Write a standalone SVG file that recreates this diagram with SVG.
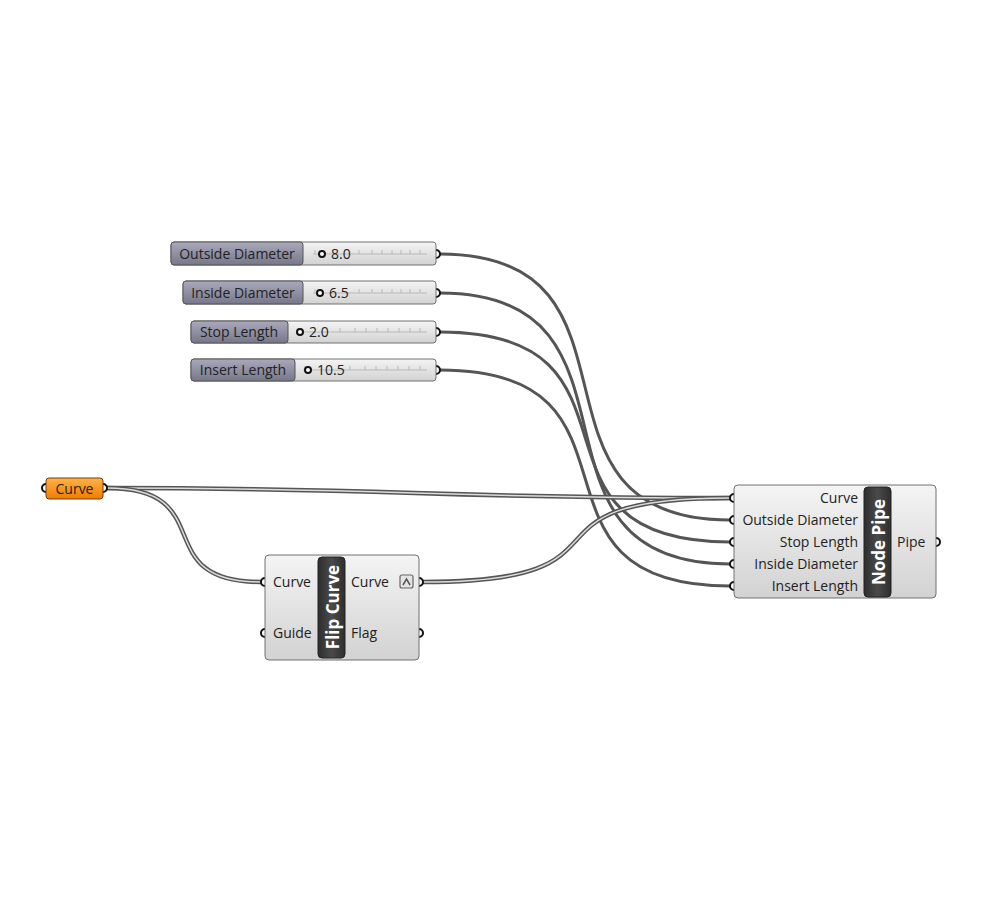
<svg xmlns="http://www.w3.org/2000/svg" width="1000" height="907" viewBox="0 0 1000 907">
<defs>
<linearGradient id="gBox" x1="0" y1="0" x2="0" y2="1"><stop offset="0" stop-color="#f4f4f4"/><stop offset="1" stop-color="#d2d2d2"/></linearGradient>
<linearGradient id="gLab" x1="0" y1="0" x2="0" y2="1"><stop offset="0" stop-color="#a9a9bb"/><stop offset="1" stop-color="#77778a"/></linearGradient>
<linearGradient id="gOr" x1="0" y1="0" x2="0" y2="1"><stop offset="0" stop-color="#ffb347"/><stop offset="1" stop-color="#f07c00"/></linearGradient>
<linearGradient id="gBar" x1="0" y1="0" x2="1" y2="0"><stop offset="0" stop-color="#2e2e2e"/><stop offset="0.5" stop-color="#4a4a4a"/><stop offset="1" stop-color="#2e2e2e"/></linearGradient>
</defs>
<style>
text{font-family:"Open Sans","Noto Sans",sans-serif;font-size:14px;fill:#222;dominant-baseline:central}
.w{fill:none;stroke:#555;stroke-width:3}
.dw{fill:none;stroke:#555;stroke-width:4.5}
.di{fill:none;stroke:#dcdcdc;stroke-width:1.5}
.box{fill:url(#gBox);stroke:#707070;stroke-width:1}
.lab{fill:url(#gLab);stroke:#555;stroke-width:1}
.bar{fill:url(#gBar);stroke:#222;stroke-width:1}
.bt{fill:#fff;font-weight:bold;font-size:17px}
.port{fill:#fff;stroke:#111;stroke-width:2}
.rail{stroke:#b8b8b8;stroke-width:1}
.grip{fill:#fff;stroke:#111;stroke-width:2}
.r{text-anchor:end}
</style>
<rect width="1000" height="907" fill="#fff"/>
<g id="connectors">
<path class="w" d="M440,254 C665,254 505,520 730,520"/>
<path class="w" d="M440,293 C665,293 505,564 730,564"/>
<path class="w" d="M440,332 C665,332 505,542 730,542"/>
<path class="w" d="M440,370 C665,370 505,586 730,586"/>
<path class="dw" d="M107,488 C400,488 430,498 730,498"/>
<path class="di" d="M107,488 C400,488 430,498 730,498"/>
<path class="dw" d="M107,488 C222,488 146,582 261,582"/>
<path class="di" d="M107,488 C222,488 146,582 261,582"/>
<path class="dw" d="M423,582 C653,582 500,498 730,498"/>
<path class="di" d="M423,582 C653,582 500,498 730,498"/>
</g>
<g id="slider-outside-diameter">
<circle class="port" cx="436" cy="254" r="4"/>
<rect class="box" x="171" y="242" width="265" height="23" rx="3"/>
<rect class="lab" x="171" y="242" width="132" height="23" rx="3"/>
<line class="rail" x1="313" y1="254" x2="427" y2="254"/>
<path class="rail" d="M315,250v4M359,250v4M372,250v4M382,250v4M392,250v4M401,250v4M410,250v4M420,250v4"/>
<circle class="grip" cx="322" cy="254" r="3"/>
<text x="237" y="253" text-anchor="middle">Outside Diameter</text>
<text x="331" y="253">8.0</text>
</g>
<g id="slider-inside-diameter">
<circle class="port" cx="436" cy="293" r="4"/>
<rect class="box" x="183" y="281" width="253" height="23" rx="3"/>
<rect class="lab" x="183" y="281" width="120" height="23" rx="3"/>
<line class="rail" x1="313" y1="293" x2="427" y2="293"/>
<path class="rail" d="M315,289v4M359,289v4M372,289v4M382,289v4M392,289v4M401,289v4M410,289v4M420,289v4"/>
<circle class="grip" cx="320" cy="293" r="3"/>
<text x="243" y="292" text-anchor="middle">Inside Diameter</text>
<text x="329" y="292">6.5</text>
</g>
<g id="slider-stop-length">
<circle class="port" cx="436" cy="332" r="4"/>
<rect class="box" x="191" y="321" width="245" height="22" rx="3"/>
<rect class="lab" x="191" y="321" width="97" height="22" rx="3"/>
<line class="rail" x1="296" y1="332" x2="427" y2="332"/>
<path class="rail" d="M298,328v4M340,328v4M355,328v4M366,328v4M377,328v4M388,328v4M399,328v4M410,328v4M420,328v4"/>
<circle class="grip" cx="300" cy="332" r="3"/>
<text x="239" y="331" text-anchor="middle">Stop Length</text>
<text x="309" y="331">2.0</text>
</g>
<g id="slider-insert-length">
<circle class="port" cx="436" cy="370" r="4"/>
<rect class="box" x="191" y="359" width="245" height="22" rx="3"/>
<rect class="lab" x="191" y="359" width="104" height="22" rx="3"/>
<line class="rail" x1="303" y1="370" x2="427" y2="370"/>
<path class="rail" d="M305,366v4M350,366v4M365,366v4M376,366v4M387,366v4M398,366v4M409,366v4M420,366v4"/>
<circle class="grip" cx="308" cy="370" r="3"/>
<text x="243" y="369" text-anchor="middle">Insert Length</text>
<text x="317" y="369">10.5</text>
</g>
<g id="param-curve">
<circle class="port" cx="46" cy="488" r="4"/>
<circle class="port" cx="103" cy="488" r="4"/>
<rect x="46" y="478" width="57" height="21" rx="3" fill="url(#gOr)" stroke="#7a3d10" stroke-width="1"/>
<text x="74.5" y="488" text-anchor="middle">Curve</text>
</g>
<g id="flip-curve">
<circle class="port" cx="265" cy="582" r="4"/>
<circle class="port" cx="265" cy="633" r="4"/>
<circle class="port" cx="419" cy="582" r="4"/>
<circle class="port" cx="419" cy="633" r="4"/>
<rect class="box" x="265" y="555" width="154" height="105" rx="4"/>
<rect class="bar" x="318" y="557" width="27" height="101" rx="4"/>
<text class="bt" transform="translate(332,607) rotate(-90)" text-anchor="middle">Flip Curve</text>
<text x="273" y="581">Curve</text>
<text x="273" y="632">Guide</text>
<text x="351" y="581">Curve</text>
<text x="351" y="632">Flag</text>
<rect x="400" y="575" width="13" height="13" rx="2" fill="#e4e4e4" stroke="#666" stroke-width="1.2"/>
<path d="M403,585 L406.5,579 L410,585" fill="none" stroke="#555" stroke-width="1.5"/>
</g>
<g id="node-pipe">
<circle class="port" cx="734" cy="498" r="4"/>
<circle class="port" cx="734" cy="520" r="4"/>
<circle class="port" cx="734" cy="542" r="4"/>
<circle class="port" cx="734" cy="564" r="4"/>
<circle class="port" cx="734" cy="586" r="4"/>
<circle class="port" cx="936" cy="542" r="4"/>
<rect class="box" x="734" y="485" width="202" height="113" rx="4"/>
<rect class="bar" x="864" y="487" width="27" height="110" rx="4"/>
<text class="bt" transform="translate(878,542) rotate(-90)" text-anchor="middle">Node Pipe</text>
<text class="r" x="858" y="497">Curve</text>
<text class="r" x="858" y="519">Outside Diameter</text>
<text class="r" x="858" y="541">Stop Length</text>
<text class="r" x="858" y="563">Inside Diameter</text>
<text class="r" x="858" y="585">Insert Length</text>
<text x="897" y="541">Pipe</text>
</g>
</svg>
